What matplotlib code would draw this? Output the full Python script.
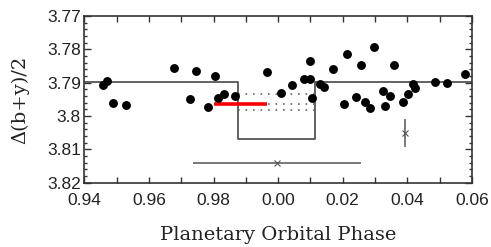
import matplotlib
matplotlib.use("Agg")
import matplotlib.pyplot as plt
from matplotlib.ticker import MultipleLocator, FixedFormatter, FixedLocator

# photometry points (phase, delta(b+y)/2)
phase = [0.9458, 0.9469, 0.9489, 0.9528, 0.9678, 0.9726, 0.9747, 0.9783,
         0.9805, 0.9813, 0.9833, 0.9867, 0.99655, 1.00086, 1.00425, 1.00806,
         1.0100, 1.0100, 1.0106, 1.0130, 1.0142, 1.0170, 1.0205, 1.0212,
         1.0241, 1.0257, 1.0269, 1.0285, 1.0298, 1.0324, 1.0331, 1.0348,
         1.0358, 1.0386, 1.0401, 1.0419, 1.0424, 1.0485, 1.0524, 1.0578]
dmag = [3.7907, 3.7894, 3.7960, 3.7968, 3.7857, 3.7950, 3.7866, 3.7972,
        3.7879, 3.7945, 3.7934, 3.7939, 3.7867, 3.7930, 3.7907, 3.7890,
        3.7890, 3.7834, 3.7946, 3.7905, 3.7914, 3.7858, 3.7963, 3.7814,
        3.7943, 3.7847, 3.7959, 3.7977, 3.7794, 3.7926, 3.7970, 3.7941,
        3.7848, 3.7958, 3.7933, 3.7904, 3.7916, 3.7897, 3.7900, 3.7874]

# transit model (box)
box_x = [0.94, 0.9876, 0.9876, 1.0114, 1.0114, 1.06]
box_y = [3.7898, 3.7898, 3.8069, 3.8069, 3.7898, 3.7898]

# dotted levels inside transit
dot_levels = [3.7935, 3.7963, 3.7982]
dot_x = [0.9876, 1.0114]

# mean of in-transit points (red)
red_x = [0.9802, 0.99655]
red_y = 3.7965

# timing error bar and typical error bar
tc, tc_err, tc_y = 0.9997, 0.0261, 3.8141
eb_x, eb_y, eb_err = 1.0392, 3.8051, 0.0043

fig = plt.figure(figsize=(4.91, 2.47), dpi=100)
ax = fig.add_axes([0.172, 0.26, 0.789, 0.675])

ax.plot(box_x, box_y, color="#555555", lw=1.3)
for lv in dot_levels:
    ax.plot(dot_x, [lv, lv], color="#666666", lw=1.2, linestyle=(0, (1, 3.5)))
ax.plot(red_x, [red_y, red_y], color="red", lw=2.6, solid_capstyle="butt")
ax.plot(phase, dmag, "o", color="black", markersize=6.4, markeredgewidth=0)
ax.errorbar([tc], [tc_y], xerr=[tc_err], fmt="x", color="#555555",
            markersize=4, lw=1.1, mew=0.8, capsize=0)
ax.errorbar([eb_x], [eb_y], yerr=[eb_err], fmt="x", color="#555555",
            markersize=4, lw=1.1, mew=0.8, capsize=0)

ax.set_xlim(0.94, 1.06)
ax.set_ylim(3.82, 3.77)

xt = [0.94, 0.96, 0.98, 1.00, 1.02, 1.04, 1.06]
xlabels = ["0.94", "0.96", "0.98", "0.00", "0.02", "0.04", "0.06"]
ax.xaxis.set_major_locator(FixedLocator(xt))
ax.xaxis.set_major_formatter(FixedFormatter(xlabels))
ax.xaxis.set_minor_locator(MultipleLocator(0.01))
yt = [3.77, 3.78, 3.79, 3.80, 3.81, 3.82]
ylabels = ["3.77", "3.78", "3.79", "3.8", "3.81", "3.82"]
ax.yaxis.set_major_locator(FixedLocator(yt))
ax.yaxis.set_major_formatter(FixedFormatter(ylabels))
ax.yaxis.set_minor_locator(MultipleLocator(0.002))

ax.tick_params(which="both", direction="in", top=True, right=True,
               color="#333333", width=1.0)
ax.tick_params(axis="x", which="both", length=4.5)
ax.tick_params(axis="y", which="major", length=5)
ax.tick_params(axis="y", which="minor", length=2.5)
ax.tick_params(axis="both", which="major", labelsize=12.5, labelcolor="#222222")
ax.tick_params(axis="x", which="major", pad=7)
ax.tick_params(axis="y", which="major", pad=2.5)
for lab in ax.get_xticklabels() + ax.get_yticklabels():
    lab.set_fontfamily("Liberation Sans")
for sp in ax.spines.values():
    sp.set_color("#333333")
    sp.set_linewidth(1.2)

ax.set_xlabel("Planetary Orbital Phase", fontfamily="DejaVu Serif",
              fontsize=14, labelpad=13, color="#222222")
ax.set_ylabel("Δ(b+y)/2", fontfamily="DejaVu Serif", fontsize=14,
              labelpad=13, color="#222222")

fig.savefig("out.png", dpi=100)
